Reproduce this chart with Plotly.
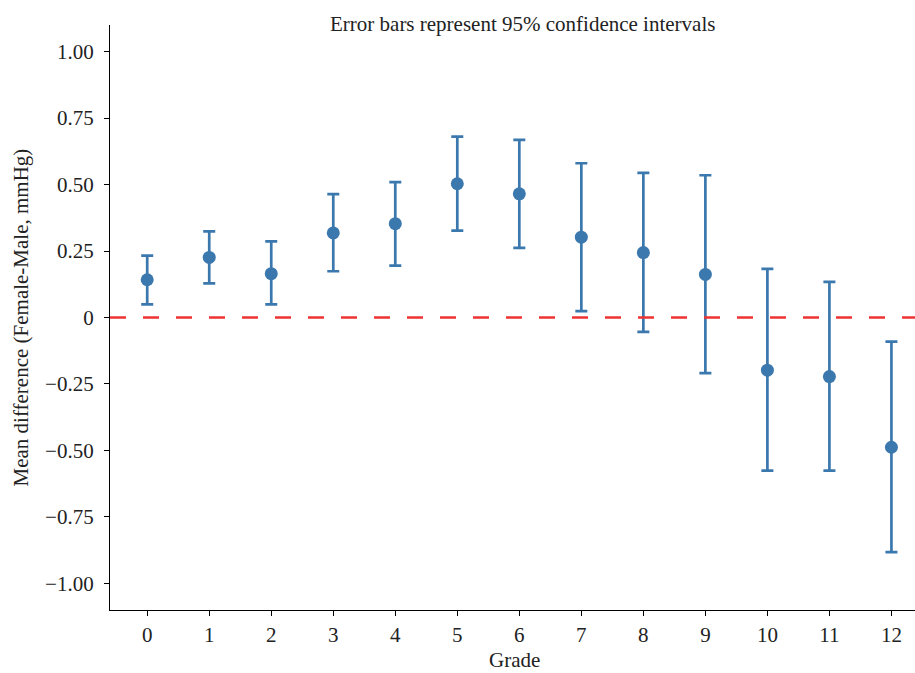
import plotly.graph_objects as go

grades = [0, 1, 2, 3, 4, 5, 6, 7, 8, 9, 10, 11, 12]
mean_diff = [0.142, 0.226, 0.165, 0.318, 0.353, 0.503, 0.465, 0.302, 0.244, 0.162, -0.198, -0.222, -0.488]
ci_upper = [0.233, 0.324, 0.286, 0.464, 0.509, 0.680, 0.668, 0.580, 0.544, 0.535, 0.183, 0.134, -0.091]
ci_lower = [0.049, 0.128, 0.049, 0.174, 0.195, 0.327, 0.262, 0.024, -0.054, -0.209, -0.576, -0.576, -0.882]

y_tickvals = [1.0, 0.75, 0.5, 0.25, 0, -0.25, -0.5, -0.75, -1.0]
y_ticktext = ["1.00", "0.75", "0.50", "0.25", "0", "\u22120.25", "\u22120.50", "\u22120.75", "\u22121.00"]

color = "#3b78ad"
font = "Liberation Serif, Times New Roman, serif"
fsize = 21

err_plus = [u - m for u, m in zip(ci_upper, mean_diff)]
err_minus = [m - l for m, l in zip(mean_diff, ci_lower)]

fig = go.Figure()
fig.add_trace(go.Scatter(
    x=grades, y=mean_diff, mode="markers",
    marker=dict(color=color, size=13),
    error_y=dict(type="data", symmetric=False, array=err_plus, arrayminus=err_minus,
                 color=color, thickness=2.7, width=6),
    showlegend=False,
))

fig.add_shape(type="line", xref="paper", x0=0, x1=1, yref="y", y0=0, y1=0,
              line=dict(color="#ee3333", width=2.5, dash="16px,17px"), layer="above")

fig.add_annotation(text="Error bars represent 95% confidence intervals",
                   xref="paper", yref="paper", x=0.512, y=1.0, yanchor="middle",
                   xanchor="center", yshift=1, showarrow=False,
                   font=dict(family=font, size=fsize, color="#222222"))

fig.add_annotation(text="Grade", xref="paper", yref="paper", x=0.503, y=-0.1077,
                   xanchor="center", yanchor="bottom", borderpad=0, showarrow=False,
                   font=dict(family=font, size=fsize, color="#222222"))

fig.add_annotation(text="Mean difference (Female-Male, mmHg)", xref="paper", yref="paper",
                   x=-0.1106, y=0.5, xanchor="center", yanchor="middle", textangle=-90,
                   showarrow=False, font=dict(family=font, size=fsize, color="#222222"))

fig.update_layout(
    width=915, height=673,
    margin=dict(l=110, r=0, t=25, b=63),
    plot_bgcolor="white", paper_bgcolor="white",
    font=dict(family=font, size=fsize, color="#222222"),
    xaxis=dict(range=[-0.6, 12.38], tickvals=grades, ticktext=[str(g) for g in grades],
               showline=True, linecolor="black", linewidth=1.3, ticks="outside",
               ticklen=5, tickwidth=1.2, tickcolor="black", showgrid=False, zeroline=False,
               ticklabelstandoff=1),
    yaxis=dict(range=[-1.1, 1.1], tickvals=y_tickvals, ticktext=y_ticktext,
               showline=True, linecolor="black", linewidth=1.3, ticks="outside",
               ticklen=5, tickwidth=1.2, tickcolor="black", showgrid=False, zeroline=False,
               ticklabelstandoff=6),
)

fig.write_html("out.html", config={"displayModeBar": False},
               post_script="document.body.style.margin='0';document.body.style.overflow='hidden';")
